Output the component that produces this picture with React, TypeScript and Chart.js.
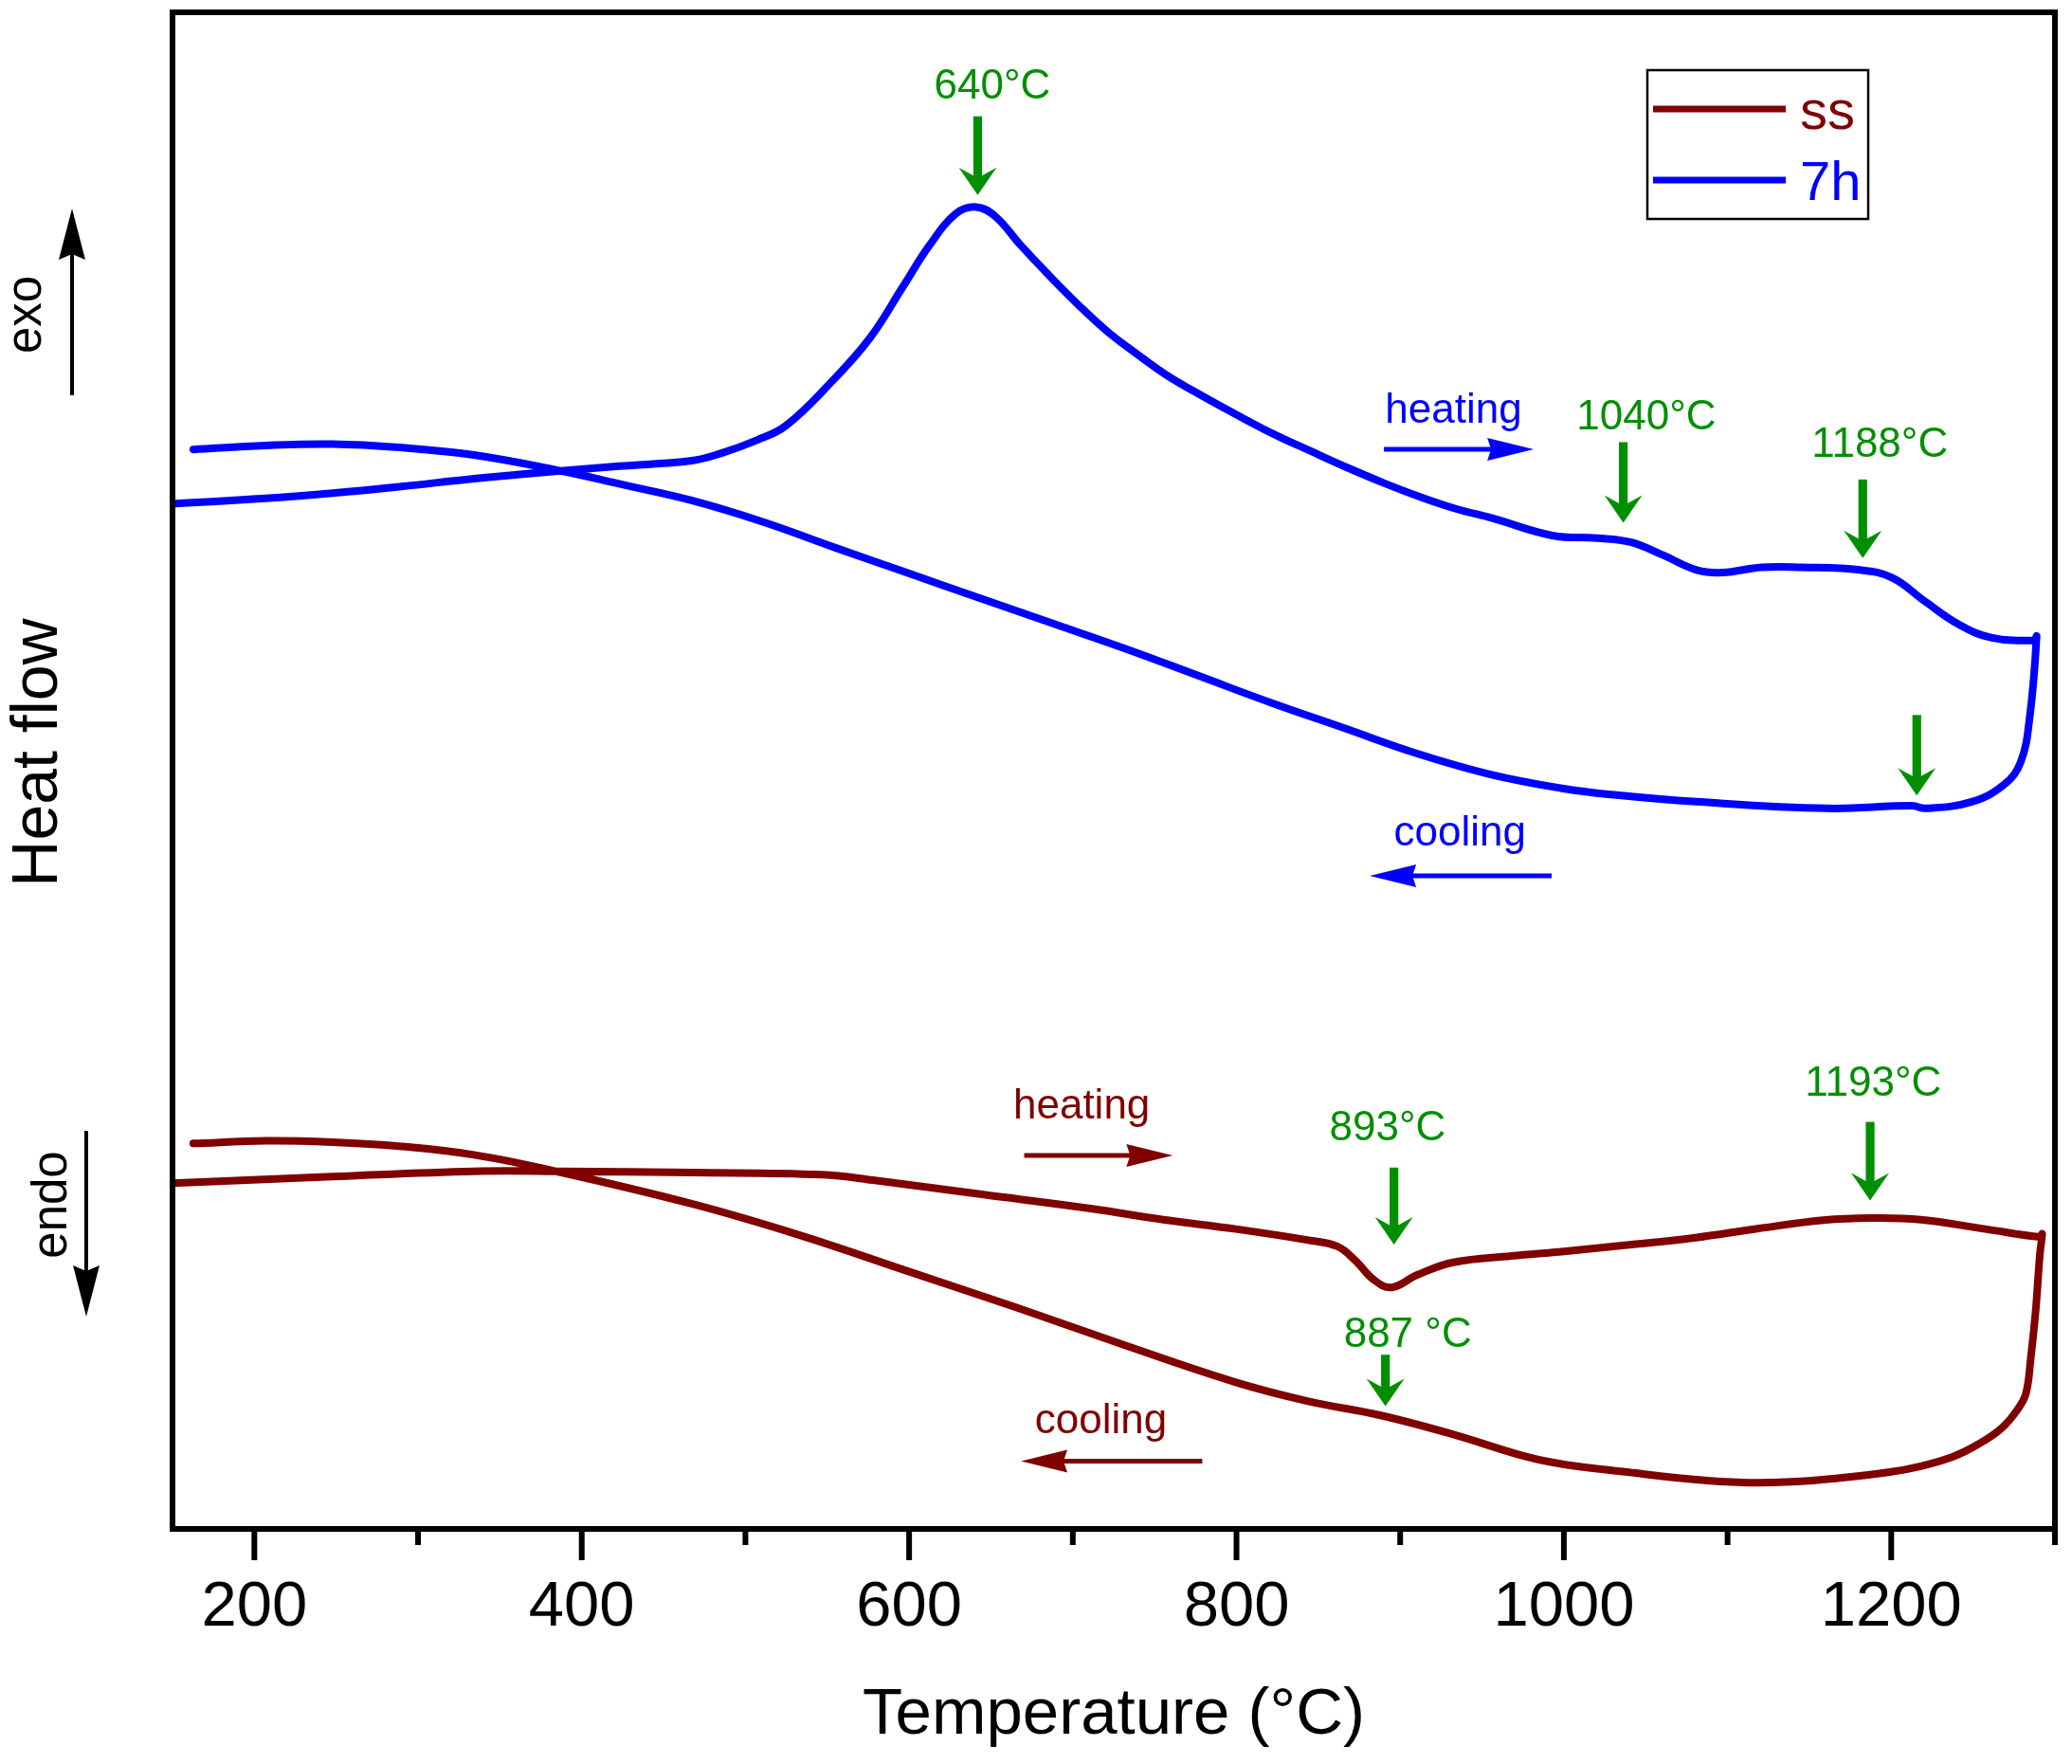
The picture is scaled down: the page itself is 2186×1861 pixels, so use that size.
import React, { useEffect, useRef } from 'react';
import { Chart, registerables } from 'chart.js';

Chart.register(...registerables);

const FONT = '"Liberation Sans", Arial, Helvetica, sans-serif';
const RED = '#800000';
const BLUE = '#0000FF';
const GREEN = '#008F00';

// 7h sample: heating run (150 -> 1289 °C) followed by the cooling run back down
const h7Temp = [
  150, 206.8, 247.8, 290, 334.2, 387.3, 422.8, 467.1, 484.9, 507, 524.8, 551.8, 576, 596.3,
  612.4, 628.6, 641, 652.6, 668, 685.8, 703.5, 721.3, 739, 756.7, 778.9, 801.1, 823.2, 845.4,
  867.6, 889.7, 911.9, 934, 956.2, 993, 1020.5, 1040.7, 1060.9, 1081.1, 1096.9, 1120.7, 1145,
  1181, 1200.7, 1220.9, 1241.1, 1260.9, 1287.2, 1288.8,
  1284.7, 1279.1, 1269, 1249.2, 1220.9, 1212.8, 1161.1, 1081.1, 1029.2, 999, 954.7, 910.4,
  866, 821.7, 777.4, 733.1, 688.7, 644.4, 600.1, 555.8, 511.4, 467.1, 422.8, 387.3, 334.2,
  288.4, 247.8, 207.2, 162.7,
];
const h7Flow = [
  77.4, 77.8, 78.2, 78.7, 79.29, 79.88, 80.24, 80.65, 81.2, 82.2, 83.3, 86.5, 89.9, 93.8,
  96.9, 99.3, 99.8, 99.1, 96.94, 94.6, 92.4, 90.38, 88.72, 87.16, 85.55, 84.05, 82.63, 81.37,
  80.13, 78.98, 77.93, 77.02, 76.31, 75.0, 74.8, 74.5, 73.5, 72.4, 72.2, 72.6, 72.6,
  72.4, 71.8, 70.0, 68.3, 67.3, 67.1, 67.4,
  61.4, 57.9, 56.2, 54.9, 54.4, 54.6, 54.4, 54.9, 55.44, 55.91, 56.98, 58.54,
  60.45, 62.35, 64.38, 66.41, 68.32, 70.22, 72.13, 74.04, 76.0, 77.65, 78.9, 79.88, 81.08,
  81.65, 81.9, 81.8, 81.5,
];

// ss sample: heating then cooling
const ssTemp = [
  150, 247.8, 334.2, 385.1, 467.1, 546.9, 577.9, 644.4, 710.9, 755.2, 799.6, 843.9, 861.6,
  872.7, 883.8, 894.8, 910.4, 932.5, 968, 1000.2, 1039.8, 1079.3, 1119, 1158.5, 1188.2, 1218,
  1257.5, 1291.2, 1292.2,
  1290.8, 1288.2, 1285.2, 1282.3, 1277.3, 1267.4, 1253.5, 1237.8, 1218, 1198.1, 1168.4, 1138.8,
  1109, 1079.3, 1039.8, 1000.2, 976.8, 932.5, 888.2, 843.9, 799.6, 733.1, 666.6, 600.1, 533.6,
  467.1, 385.1, 334.2, 288.4, 247.8, 207.2, 162.7,
];
const ssFlow = [
  26.1, 26.6, 27.0, 27.0, 26.9, 26.74, 26.33, 25.26, 24.19, 23.35, 22.64, 21.8, 21.33,
  20.25, 18.82, 18.23, 19.18, 20.13, 20.61, 20.95, 21.45, 21.97, 22.68, 23.31, 23.47, 23.35,
  22.64, 22.04, 22.28,
  20.73, 16.44, 12.86, 10.23, 9.04, 7.61, 6.42, 5.46, 4.74, 4.27, 3.84, 3.56,
  3.51, 3.74, 4.27, 4.87, 5.46, 7.13, 8.57, 9.64, 11.07, 13.81, 16.67, 19.42, 22.16,
  24.55, 26.98, 28.24, 28.9, 29.2, 29.3, 29.1,
];

const sampleNames = ['ss', '7h'];
const xTicks = [200, 400, 600, 800, 1000, 1200];

// green peak markers: label, label anchor (°C, flow), arrow column and its top / tip
const peakMarks = [
  { text: '640°C', tx: 650.8, ty: 107.97, ax: 641.9, from: 106.65, to: 100.71 },
  { text: '1040°C', tx: 1050.4, ty: 83.03, ax: 1036.3, from: 82.05, to: 75.97 },
  { text: '1188°C', tx: 1193, ty: 80.96, ax: 1182.6, from: 79.23, to: 73.29 },
  { text: '', tx: 0, ty: 0, ax: 1215.6, from: 61.45, to: 55.38 },
  { text: '893°C', tx: 892.3, ty: 29.36, ax: 896.2, from: 27.28, to: 21.46 },
  { text: '1193°C', tx: 1189, ty: 32.69, ax: 1187.1, from: 30.73, to: 24.79 },
  { text: '887 °C', tx: 904.6, ty: 13.77, ax: 891, from: 13.15, to: 9.27 },
];

// heating / cooling direction markers
const runMarks = [
  { text: 'heating', color: BLUE, tx: 932.6, ty: 83.54, ay: 81.51, from: 890.1, to: 981.6 },
  { text: 'cooling', color: BLUE, tx: 936.5, ty: 51.6, ay: 49.31, from: 992.5, to: 881.4 },
  { text: 'heating', color: RED, tx: 705.4, ty: 30.99, ay: 28.2, from: 670.3, to: 761.1 },
  { text: 'cooling', color: RED, tx: 717.2, ty: 7.2, ay: 5.12, from: 779.1, to: 668.3 },
];

function greenArrow(ctx: CanvasRenderingContext2D, px: number, top: number, tip: number) {
  ctx.fillStyle = GREEN;
  ctx.fillRect(px - 4.6, top, 9.2, tip - top - 17);
  ctx.beginPath();
  ctx.moveTo(px, tip);
  ctx.lineTo(px - 20, tip - 29);
  ctx.lineTo(px, tip - 18);
  ctx.lineTo(px + 20, tip - 29);
  ctx.closePath();
  ctx.fill();
}

function runArrow(ctx: CanvasRenderingContext2D, x0: number, x1: number, py: number, color: string) {
  const dir = Math.sign(x1 - x0);
  ctx.strokeStyle = color;
  ctx.fillStyle = color;
  ctx.lineWidth = 5;
  ctx.beginPath();
  ctx.moveTo(x0, py);
  ctx.lineTo(x1 - dir * 40, py);
  ctx.stroke();
  ctx.beginPath();
  ctx.moveTo(x1, py);
  ctx.lineTo(x1 - dir * 49, py - 12);
  ctx.lineTo(x1 - dir * 45, py);
  ctx.lineTo(x1 - dir * 49, py + 12);
  ctx.closePath();
  ctx.fill();
}

function blackArrow(ctx: CanvasRenderingContext2D, px: number, from: number, tip: number) {
  const dir = Math.sign(tip - from);
  ctx.strokeStyle = '#000';
  ctx.fillStyle = '#000';
  ctx.lineWidth = 4;
  ctx.beginPath();
  ctx.moveTo(px, from);
  ctx.lineTo(px, tip - dir * 45);
  ctx.stroke();
  ctx.beginPath();
  ctx.moveTo(px, tip);
  ctx.lineTo(px - 14, tip - dir * 54);
  ctx.lineTo(px, tip - dir * 48);
  ctx.lineTo(px + 14, tip - dir * 54);
  ctx.closePath();
  ctx.fill();
}

function rotatedText(ctx: CanvasRenderingContext2D, text: string, bx: number, cy: number, size: number) {
  ctx.save();
  ctx.translate(bx, cy);
  ctx.rotate(-Math.PI / 2);
  ctx.font = `${size}px ${FONT}`;
  ctx.fillStyle = '#000';
  ctx.textAlign = 'center';
  ctx.textBaseline = 'alphabetic';
  ctx.fillText(text, 0, 0);
  ctx.restore();
}

const decorPlugin = {
  id: 'decor',
  afterDraw(chart: any) {
    const { ctx, chartArea: a } = chart;
    const xs = chart.scales.x;
    const ys = chart.scales.y;
    ctx.save();

    // frame
    ctx.strokeStyle = '#000';
    ctx.lineWidth = 6;
    ctx.strokeRect(a.left, a.top, a.right - a.left, a.bottom - a.top);

    // outward ticks, major every 200, minor in between
    for (let t = 200; t <= 1300; t += 100) {
      const px = xs.getPixelForValue(t);
      const len = xTicks.includes(t) ? 33 : 17;
      ctx.beginPath();
      ctx.moveTo(px, a.bottom);
      ctx.lineTo(px, a.bottom + len);
      ctx.stroke();
    }

    // peak markers
    ctx.textAlign = 'center';
    ctx.textBaseline = 'alphabetic';
    ctx.font = `44px ${FONT}`;
    peakMarks.forEach((m) => {
      if (m.text) {
        ctx.fillStyle = GREEN;
        ctx.fillText(m.text, xs.getPixelForValue(m.tx), ys.getPixelForValue(m.ty));
      }
      greenArrow(ctx, xs.getPixelForValue(m.ax), ys.getPixelForValue(m.from), ys.getPixelForValue(m.to));
    });

    runMarks.forEach((m) => {
      ctx.font = `44px ${FONT}`;
      ctx.fillStyle = m.color;
      ctx.textAlign = 'center';
      ctx.fillText(m.text, xs.getPixelForValue(m.tx), ys.getPixelForValue(m.ty));
      runArrow(ctx, xs.getPixelForValue(m.from), xs.getPixelForValue(m.to), ys.getPixelForValue(m.ay), m.color);
    });

    // legend box
    const colors = [RED, BLUE];
    ctx.strokeStyle = '#000';
    ctx.lineWidth = 2.5;
    ctx.strokeRect(1738, 74, 233, 157);
    sampleNames.forEach((name, i) => {
      const ly = i === 0 ? 115 : 190;
      ctx.strokeStyle = colors[i];
      ctx.lineWidth = 7;
      ctx.beginPath();
      ctx.moveTo(1744, ly);
      ctx.lineTo(1884, ly);
      ctx.stroke();
      ctx.fillStyle = colors[i];
      ctx.font = `58px ${FONT}`;
      ctx.textAlign = 'left';
      ctx.fillText(name, 1899, i === 0 ? 136 : 211);
    });

    // y-side labels
    rotatedText(ctx, 'Heat flow', 60, 794, 68);
    rotatedText(ctx, 'exo', 43, 332, 51);
    rotatedText(ctx, 'endo', 70, 1271, 51);
    blackArrow(ctx, 76, 417, 220);
    blackArrow(ctx, 91, 1193, 1389);

    ctx.restore();
  },
};

const App: React.FC = () => {
  const canvasRef = useRef<HTMLCanvasElement>(null);
  const chartRef = useRef<Chart | null>(null);

  useEffect(() => {
    document.body.style.margin = '0';
    document.documentElement.style.overflow = 'hidden';
    document.body.style.overflow = 'hidden';
    if (!canvasRef.current) return;
    if (chartRef.current) chartRef.current.destroy();

    const line = (temps: number[], flows: number[], name: string, color: string) => ({
      label: name,
      data: temps.map((t, i) => ({ x: t, y: flows[i] })),
      borderColor: color,
      backgroundColor: color,
      borderWidth: 8,
      pointRadius: 0,
      tension: 0.4,
      fill: false,
      borderCapStyle: 'round' as const,
      borderJoinStyle: 'round' as const,
    });

    chartRef.current = new Chart(canvasRef.current, {
      type: 'line',
      data: {
        datasets: [
          line(ssTemp, ssFlow, sampleNames[0], RED),
          line(h7Temp, h7Flow, sampleNames[1], BLUE),
        ],
      },
      options: {
        animation: false,
        responsive: false,
        devicePixelRatio: 1,
        layout: { padding: { left: 182, right: 18, top: 13, bottom: 0 } },
        plugins: {
          legend: { display: false },
          tooltip: { enabled: false },
        },
        scales: {
          x: {
            type: 'linear',
            min: 150,
            max: 1300,
            grid: { display: false, drawTicks: false },
            border: { display: false },
            afterBuildTicks: (scale: any) => {
              scale.ticks = xTicks.map((v) => ({ value: v }));
            },
            ticks: {
              autoSkip: false,
              maxRotation: 0,
              padding: 43,
              color: '#000',
              font: { family: FONT, size: 67 },
              callback: (v: any) => String(v),
            },
            title: {
              display: true,
              text: 'Temperature (°C)',
              color: '#000',
              font: { family: FONT, size: 69 },
              padding: { top: 0, bottom: 10 },
            },
            afterFit: (scale: any) => {
              scale.height = 248;
            },
          },
          y: {
            type: 'linear',
            display: false,
            min: 0,
            max: 114.5,
          },
        },
      },
      plugins: [decorPlugin],
    });

    return () => {
      if (chartRef.current) {
        chartRef.current.destroy();
        chartRef.current = null;
      }
    };
  }, []);

  return (
    <div style={{ position: 'absolute', left: 0, top: 0, width: 2186, height: 1861, overflow: 'hidden', background: '#fff' }}>
      <canvas ref={canvasRef} width={2186} height={1861} style={{ display: 'block', width: 2186, height: 1861 }}></canvas>
    </div>
  );
};

export default App;
